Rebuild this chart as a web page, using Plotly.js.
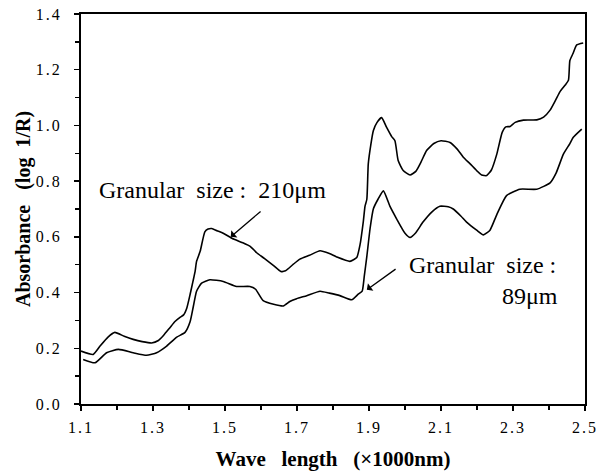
<!DOCTYPE html>
<html>
<head>
<meta charset="utf-8">
<script src="https://cdn.plot.ly/plotly-3.0.1.min.js"></script>
<style>
  html, body { margin: 0; padding: 0; background: #fff; }
  #chart { width: 611px; height: 476px; }
  /* wide typesetting for the tick numbers */
  #chart .xtick text, #chart .ytick text { letter-spacing: 2px; }
</style>
</head>
<body>
<div id="chart"></div>
<script>
// Near-infrared reflectance spectra of two granular sizes (wavelength in 1000 nm units)
const waveCoarse = [1.100, 1.134, 1.153, 1.175, 1.194, 1.220, 1.245, 1.270, 1.296, 1.315,
  1.329, 1.347, 1.361, 1.375, 1.385, 1.394, 1.403, 1.411, 1.417, 1.421, 1.431, 1.444, 1.453,
  1.463, 1.478, 1.495, 1.519, 1.551, 1.570, 1.588, 1.610, 1.635, 1.655, 1.668, 1.690, 1.708,
  1.735, 1.764, 1.790, 1.810, 1.847, 1.866, 1.875, 1.884, 1.889, 1.894, 1.898, 1.905, 1.912,
  1.922, 1.935, 1.949, 1.963, 1.972, 1.981, 1.995, 2.014, 2.030, 2.045, 2.060, 2.080, 2.100,
  2.125, 2.145, 2.162, 2.181, 2.199, 2.213, 2.227, 2.240, 2.255, 2.270, 2.280, 2.292, 2.306,
  2.329, 2.366, 2.385, 2.403, 2.418, 2.431, 2.445, 2.454, 2.458, 2.467, 2.477, 2.495];
const absCoarse = [0.190, 0.178, 0.208, 0.240, 0.257, 0.243, 0.232, 0.224, 0.219, 0.228,
  0.246, 0.274, 0.296, 0.311, 0.320, 0.345, 0.393, 0.440, 0.476, 0.512, 0.548, 0.618, 0.628,
  0.630, 0.622, 0.613, 0.595, 0.578, 0.566, 0.543, 0.522, 0.497, 0.476, 0.478, 0.502, 0.520,
  0.534, 0.550, 0.540, 0.528, 0.512, 0.526, 0.571, 0.653, 0.710, 0.735, 0.862, 0.930, 0.981,
  1.010, 1.028, 0.993, 0.960, 0.945, 0.874, 0.838, 0.822, 0.835, 0.870, 0.910, 0.935, 0.945,
  0.939, 0.915, 0.886, 0.862, 0.838, 0.822, 0.820, 0.840, 0.897, 0.975, 0.995, 0.996, 1.011,
  1.019, 1.020, 1.030, 1.055, 1.090, 1.122, 1.145, 1.162, 1.233, 1.259, 1.289, 1.296];

const waveFine = [1.106, 1.139, 1.171, 1.204, 1.245, 1.282, 1.310, 1.338, 1.366, 1.389,
  1.403, 1.412, 1.421, 1.435, 1.458, 1.495, 1.532, 1.569, 1.585, 1.606, 1.635, 1.662, 1.680,
  1.699, 1.727, 1.764, 1.790, 1.819, 1.852, 1.870, 1.881, 1.887, 1.894, 1.903, 1.912, 1.925,
  1.940, 1.958, 1.977, 2.000, 2.014, 2.030, 2.050, 2.075, 2.097, 2.120, 2.134, 2.155, 2.171,
  2.199, 2.218, 2.236, 2.255, 2.282, 2.319, 2.366, 2.403, 2.420, 2.440, 2.458, 2.467, 2.491];
const absFine = [0.160, 0.148, 0.184, 0.196, 0.184, 0.175, 0.184, 0.208, 0.240, 0.257,
  0.295, 0.350, 0.405, 0.434, 0.446, 0.440, 0.422, 0.422, 0.412, 0.371, 0.358, 0.352, 0.368,
  0.378, 0.389, 0.405, 0.398, 0.389, 0.374, 0.394, 0.405, 0.460, 0.530, 0.630, 0.700, 0.735,
  0.765, 0.710, 0.664, 0.613, 0.598, 0.615, 0.653, 0.690, 0.710, 0.708, 0.700, 0.675, 0.653,
  0.624, 0.607, 0.624, 0.680, 0.748, 0.771, 0.771, 0.794, 0.830, 0.897, 0.935, 0.957, 0.987];

const xTicks = [1.1, 1.3, 1.5, 1.7, 1.9, 2.1, 2.3, 2.5];
const xTickText = ['1.1', '1.3', '1.5', '1.7', '1.9', '2.1', '2.3', '2.5'];
const yTicks = [0, 0.2, 0.4, 0.6, 0.8, 1.0, 1.2, 1.4];
const yTickText = ['0.0', '0.2', '0.4', '0.6', '0.8', '1.0', '1.2', '1.4'];

const labelCoarse = 'Granular  size :  210\u03bcm';
const labelFineTop = 'Granular  size :';
const labelFineBottom = '89\u03bcm';
const xTitle = 'Wave   length   (\u00d71000nm)';
const yTitle = 'Absorbance   (log  1/R)';

const serif = 'Liberation Serif';

const lineStyle = { color: '#000', width: 1.6, shape: 'spline', smoothing: 0.5 };

const traces = [
  { x: waveCoarse, y: absCoarse, mode: 'lines', line: lineStyle, hoverinfo: 'skip' },
  { x: waveFine, y: absFine, mode: 'lines', line: lineStyle, hoverinfo: 'skip' }
];

const axisCommon = {
  showgrid: false,
  zeroline: false,
  showline: true,
  linecolor: '#000',
  linewidth: 2,
  mirror: true,
  ticks: 'outside',
  ticklen: 5,
  tickwidth: 1.5,
  tickcolor: '#000',
  tickmode: 'array',
  tickfont: { family: serif, size: 16, color: '#000' },
  minor: { dtick: 0.1, ticks: 'outside', ticklen: 4, tickwidth: 1.5, tickcolor: '#000' }
};

const labelFont = { family: serif, size: 24, color: '#000' };

const layout = {
  width: 611,
  height: 476,
  margin: { l: 81, r: 26, t: 14, b: 72 },
  paper_bgcolor: '#fff',
  plot_bgcolor: '#fff',
  showlegend: false,
  xaxis: Object.assign({}, axisCommon, {
    range: [1.1, 2.5],
    tickvals: xTicks,
    ticktext: xTickText,
    ticklabelstandoff: 3,
    minor: Object.assign({}, axisCommon.minor, { tick0: 1.1 }),
    title: {
      text: xTitle,
      font: { family: serif, size: 21, color: '#000', weight: 'bold' },
      standoff: 16
    }
  }),
  yaxis: Object.assign({}, axisCommon, {
    range: [0, 1.4],
    tickvals: yTicks,
    ticktext: yTickText,
    ticklabelstandoff: 9,
    minor: Object.assign({}, axisCommon.minor, { tick0: 0 }),
    title: {
      text: yTitle,
      font: { family: serif, size: 20, color: '#000', weight: 'bold' },
      standoff: 6
    }
  }),
  annotations: [
    { x: 1.145, y: 0.768, xref: 'x', yref: 'y', xanchor: 'left', yanchor: 'middle',
      text: labelCoarse, showarrow: false, font: labelFont },
    { x: 1.516, y: 0.600, ax: 1.603, ay: 0.696, xref: 'x', yref: 'y', axref: 'x', ayref: 'y',
      text: '', showarrow: true, arrowhead: 1, arrowsize: 1.2, arrowwidth: 1.3, arrowcolor: '#000' },
    { x: 2.006, y: 0.499, xref: 'x', yref: 'y', xanchor: 'left', yanchor: 'middle',
      text: labelFineTop, showarrow: false, font: labelFont },
    { x: 2.431, y: 0.388, xref: 'x', yref: 'y', xanchor: 'right', yanchor: 'middle',
      text: labelFineBottom, showarrow: false, font: labelFont },
    { x: 1.894, y: 0.410, ax: 1.978, ay: 0.488, xref: 'x', yref: 'y', axref: 'x', ayref: 'y',
      text: '', showarrow: true, arrowhead: 1, arrowsize: 1.2, arrowwidth: 1.3, arrowcolor: '#000' }
  ]
};

Plotly.newPlot('chart', traces, layout, { staticPlot: true, displayModeBar: false });
</script>
</body>
</html>
